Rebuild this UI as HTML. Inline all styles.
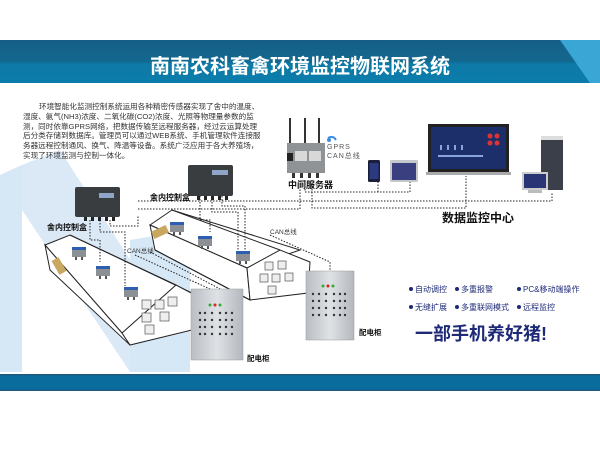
<!DOCTYPE html>
<html><head><meta charset="utf-8"><style>
html,body{margin:0;padding:0;background:#fff;}
body{width:600px;height:450px;overflow:hidden;position:relative;font-family:"Liberation Sans","Noto Sans CJK SC",sans-serif;}
.t{position:absolute;white-space:nowrap;}
.p div{white-space:nowrap;}
</style></head><body>
<svg width="600" height="450" viewBox="0 0 600 450" style="position:absolute;left:0;top:0">
<defs>
<linearGradient id="tb" x1="0" y1="0" x2="0" y2="1"><stop offset="0" stop-color="#155f86"/><stop offset="0.5" stop-color="#136890"/><stop offset="0.55" stop-color="#0e7aa6"/><stop offset="1" stop-color="#0b7cab"/></linearGradient>
<linearGradient id="cab" x1="0" y1="0" x2="1" y2="0"><stop offset="0" stop-color="#b9bec4"/><stop offset="0.5" stop-color="#dfe2e5"/><stop offset="1" stop-color="#b3b8be"/></linearGradient>
</defs>
<polygon points="0,175 22,165 22,372 0,372" fill="#d6e7f6"/>
<polygon points="22,165 60,150 175,330 175,372 130,372 22,210" fill="#dbe9f6"/>
<polygon points="130,240 190,230 190,372 130,372" fill="#d6e7f6"/>
<rect x="0" y="40" width="600" height="43" fill="url(#tb)"/>
<polygon points="560,40 600,40 600,83 590,83" fill="#3aa6d6"/>
<rect x="0" y="374" width="600" height="17" fill="#0a6c9d"/>
<rect x="0" y="374" width="600" height="1.5" fill="#1d5a80"/>
<rect x="0" y="389.5" width="600" height="1.5" fill="#1d5a80"/>

<g fill="none" stroke="#222" stroke-width="1">
<polygon points="150,225 172,210 300,250 247,268" fill="#fff"/>
<polygon points="150,225 247,268 250,300 155,250" fill="#fff"/>
<polygon points="247,268 280,250 310,262 308,293 250,300" fill="#fff"/>
<line x1="172" y1="210" x2="280" y2="250"/>
<line x1="155" y1="250" x2="250" y2="300"/>
</g>
<rect x="152" y="228" width="16" height="8" fill="#c8a860" transform="rotate(-25 160 232)"/>
<g fill="none" stroke="#222" stroke-width="1">
<polygon points="45,245 70,235 190,292 122,333" fill="#fff"/>
<polygon points="45,245 122,333 130,345 50,270" fill="#fff"/>
<polygon points="122,333 176,285 195,295 192,330 130,345" fill="#fff"/>
<line x1="70" y1="235" x2="176" y2="285"/>
</g>
<rect x="55" y="258" width="8" height="16" fill="#c8a860" transform="rotate(-30 59 266)"/>
<g fill="#eee" stroke="#555" stroke-width="0.7">
<rect x="142" y="300" width="9" height="9"/><rect x="155" y="300" width="9" height="9"/><rect x="168" y="297" width="9" height="9"/>
<rect x="142" y="313" width="9" height="9"/><rect x="160" y="312" width="9" height="9"/><rect x="145" y="325" width="9" height="9"/>
<rect x="265" y="262" width="8" height="8"/><rect x="278" y="261" width="8" height="8"/><rect x="260" y="274" width="8" height="8"/>
<rect x="272" y="274" width="8" height="8"/><rect x="285" y="273" width="8" height="8"/><rect x="268" y="286" width="8" height="8"/>
</g>
<g fill="none" stroke="#222" stroke-width="1" stroke-dasharray="1.5,1.5">
<polyline points="138,209 300,209 300,180"/>
<polyline points="305,180 305,192 410,192 410,180"/>
<line x1="378" y1="192" x2="378" y2="182"/>
<polyline points="138,201 310,201 552,201 552,193"/>
<polyline points="312,180 312,208 466,208 466,176"/>
<polyline points="200,196 200,220 210,220 210,232"/>
<polyline points="212,196 212,212 238,212 238,250"/>
<polyline points="222,196 222,206 245,206 245,250"/>
<polyline points="90,220 90,240 100,240 100,262"/>
<polyline points="100,220 100,232 125,232 125,286"/>
<polyline points="110,220 110,226 138,226 138,215"/>
<polyline points="270,235 330,262 330,271"/>
<polyline points="150,252 222,290"/>
<polyline points="135,255 210,289"/>
</g>
<g>
<g transform="translate(170,222)"><rect width="14" height="10" fill="#8c9094"/><rect width="14" height="3" fill="#2c5fb0"/><rect x="3" y="10" width="2" height="3" fill="#555"/><rect x="9" y="10" width="2" height="3" fill="#555"/></g>
<g transform="translate(198,236)"><rect width="14" height="10" fill="#8c9094"/><rect width="14" height="3" fill="#2c5fb0"/><rect x="3" y="10" width="2" height="3" fill="#555"/><rect x="9" y="10" width="2" height="3" fill="#555"/></g>
<g transform="translate(236,251)"><rect width="14" height="10" fill="#8c9094"/><rect width="14" height="3" fill="#2c5fb0"/><rect x="3" y="10" width="2" height="3" fill="#555"/><rect x="9" y="10" width="2" height="3" fill="#555"/></g>
<g transform="translate(72,247)"><rect width="14" height="10" fill="#8c9094"/><rect width="14" height="3" fill="#2c5fb0"/><rect x="3" y="10" width="2" height="3" fill="#555"/><rect x="9" y="10" width="2" height="3" fill="#555"/></g>
<g transform="translate(96,266)"><rect width="14" height="10" fill="#8c9094"/><rect width="14" height="3" fill="#2c5fb0"/><rect x="3" y="10" width="2" height="3" fill="#555"/><rect x="9" y="10" width="2" height="3" fill="#555"/></g>
<g transform="translate(124,287)"><rect width="14" height="10" fill="#8c9094"/><rect width="14" height="3" fill="#2c5fb0"/><rect x="3" y="10" width="2" height="3" fill="#555"/><rect x="9" y="10" width="2" height="3" fill="#555"/></g>
</g>
<g>
<rect x="75" y="187" width="45" height="30" rx="2" fill="#3a3d40"/>
<rect x="99" y="193" width="15" height="5" fill="#8fa6c8"/>
<g fill="#222"><rect x="84" y="217" width="3" height="4"/><rect x="91" y="217" width="3" height="4"/><rect x="98" y="217" width="3" height="4"/><rect x="105" y="217" width="3" height="4"/><rect x="112" y="217" width="3" height="4"/></g>
<rect x="188" y="165" width="45" height="31" rx="2" fill="#3a3d40"/>
<rect x="212" y="170" width="16" height="5" fill="#8fa6c8"/>
<g fill="#222"><rect x="197" y="196" width="3" height="4"/><rect x="204" y="196" width="3" height="4"/><rect x="211" y="196" width="3" height="4"/><rect x="218" y="196" width="3" height="4"/><rect x="225" y="196" width="3" height="4"/></g>
</g>
<g>
<rect x="289" y="118" width="2" height="26" fill="#333"/><rect x="304" y="118" width="2" height="26" fill="#333"/><rect x="318" y="118" width="2" height="26" fill="#333"/>
<rect x="287" y="143" width="38" height="30" fill="#8f9396"/>
<rect x="287" y="153" width="6" height="8" fill="#222"/>
<rect x="295" y="151" width="12" height="10" fill="#d8d8d8"/><rect x="309" y="151" width="12" height="10" fill="#d8d8d8"/>
<g fill="#333"><rect x="292" y="173" width="3" height="5"/><rect x="300" y="173" width="3" height="5"/><rect x="308" y="173" width="3" height="5"/><rect x="316" y="173" width="3" height="5"/></g>
<path d="M328,138 q5,-3 8,2" stroke="#3a8de0" stroke-width="2" fill="none"/>
<circle cx="329" cy="140" r="2" fill="#3a8de0"/>
</g>
<rect x="368" y="160" width="12" height="22" rx="1.5" fill="#1a1f3a"/><rect x="369.5" y="163" width="9" height="16" fill="#2c3a80"/>
<rect x="390" y="160" width="28" height="22" rx="1.5" fill="#c4c8cc"/><rect x="392" y="163" width="24" height="17" fill="#3a3f80"/>
<rect x="428" y="124" width="81" height="48" fill="#222"/>
<rect x="431" y="127" width="75" height="42" fill="#1d2f6a"/>
<g fill="#d33"><circle cx="490" cy="136" r="2.5"/><circle cx="497" cy="136" r="2.5"/><circle cx="490" cy="143" r="2.5"/><circle cx="497" cy="143" r="2.5"/></g>
<g fill="#8aa3d8"><rect x="440" y="145" width="2" height="5"/><rect x="447" y="145" width="2" height="5"/><rect x="454" y="145" width="2" height="5"/><rect x="461" y="145" width="2" height="5"/><rect x="438" y="155" width="45" height="2"/></g>
<rect x="426" y="172" width="85" height="3" fill="#aaa"/>
<rect x="541" y="136" width="22" height="4" fill="#ddd"/>
<rect x="541" y="140" width="22" height="50" fill="#3a3f4a"/>
<rect x="522" y="172" width="26" height="18" fill="#ccc"/><rect x="524" y="174" width="22" height="14" fill="#2a3575"/>
<rect x="528" y="190" width="14" height="3" fill="#bbb"/>
<rect x="191" y="289" width="52" height="71" fill="url(#cab)" stroke="#999" stroke-width="0.5"/>
<rect x="306" y="271" width="48" height="69" fill="url(#cab)" stroke="#999" stroke-width="0.5"/>
<g>
<circle cx="210" cy="305" r="1.5" fill="#3a3"/><circle cx="215" cy="305" r="1.5" fill="#d22"/><circle cx="220" cy="305" r="1.5" fill="#3a3"/>
<circle cx="323" cy="286" r="1.5" fill="#3a3"/><circle cx="328" cy="286" r="1.5" fill="#d22"/><circle cx="333" cy="286" r="1.5" fill="#3a3"/>
</g>
<g fill="#333">
<circle cx="200" cy="313" r="1.2"/><circle cx="205" cy="313" r="1.2"/><circle cx="212" cy="313" r="1.2"/><circle cx="220" cy="313" r="1.2"/><circle cx="226" cy="313" r="1.2"/><circle cx="232" cy="313" r="1.2"/>
<circle cx="200" cy="320" r="1.2"/><circle cx="205" cy="320" r="1.2"/><circle cx="212" cy="320" r="1.2"/><circle cx="220" cy="320" r="1.2"/><circle cx="226" cy="320" r="1.2"/><circle cx="232" cy="320" r="1.2"/>
<circle cx="200" cy="327" r="1.2"/><circle cx="205" cy="327" r="1.2"/><circle cx="212" cy="327" r="1.2"/><circle cx="220" cy="327" r="1.2"/><circle cx="226" cy="327" r="1.2"/><circle cx="232" cy="327" r="1.2"/>
<circle cx="200" cy="334" r="1.2"/><circle cx="205" cy="334" r="1.2"/><circle cx="212" cy="334" r="1.2"/><circle cx="220" cy="334" r="1.2"/><circle cx="226" cy="334" r="1.2"/><circle cx="232" cy="334" r="1.2"/>
<circle cx="313" cy="294" r="1.2"/><circle cx="319" cy="294" r="1.2"/><circle cx="326" cy="294" r="1.2"/><circle cx="334" cy="294" r="1.2"/><circle cx="340" cy="294" r="1.2"/><circle cx="345" cy="294" r="1.2"/>
<circle cx="313" cy="301" r="1.2"/><circle cx="319" cy="301" r="1.2"/><circle cx="326" cy="301" r="1.2"/><circle cx="334" cy="301" r="1.2"/><circle cx="340" cy="301" r="1.2"/><circle cx="345" cy="301" r="1.2"/>
<circle cx="313" cy="308" r="1.2"/><circle cx="319" cy="308" r="1.2"/><circle cx="326" cy="308" r="1.2"/><circle cx="334" cy="308" r="1.2"/><circle cx="340" cy="308" r="1.2"/><circle cx="345" cy="308" r="1.2"/>
<circle cx="313" cy="315" r="1.2"/><circle cx="319" cy="315" r="1.2"/><circle cx="326" cy="315" r="1.2"/><circle cx="334" cy="315" r="1.2"/><circle cx="340" cy="315" r="1.2"/><circle cx="345" cy="315" r="1.2"/>
</g>
<g fill="#1e2a78">
<circle cx="411" cy="289" r="2"/><circle cx="457" cy="289" r="2"/><circle cx="519" cy="289" r="2"/>
<circle cx="411" cy="307" r="2"/><circle cx="457" cy="307" r="2"/><circle cx="519" cy="307" r="2"/>
</g>
</svg>

<div class="t" style="left:150px;top:54px;font-size:20px;font-weight:bold;color:#fff;line-height:26px">南南农科畜禽环境监控物联网系统</div>

<div class="t p" style="left:23px;top:102px;font-size:7.6px;line-height:9.8px;color:#333">
<div style="padding-left:16px">环境智能化监测控制系统运用各种精密传感器实现了舍中的温度、</div>
<div>湿度、氨气(NH3)浓度、二氧化碳(CO2)浓度、光照等物理量参数的监</div>
<div>测，同时依靠GPRS网络，把数据传输至远程服务器，经过云运算处理</div>
<div>后分类存储到数据库。管理员可以通过WEB系统、手机管理软件连接服</div>
<div>务器远程控制通风、换气、降温等设备。系统广泛应用于各大养殖场，</div>
<div>实现了环境监测与控制一体化。</div>
</div>

<div class="t" style="left:327px;top:143px;font-size:7px;line-height:9px;color:#555;letter-spacing:1px">GPRS<br>CAN总线</div>
<div class="t" style="left:288px;top:178px;font-size:9px;font-weight:bold;color:#111">中间服务器</div>
<div class="t" style="left:442px;top:209px;font-size:12px;font-weight:bold;color:#111">数据监控中心</div>
<div class="t" style="left:150px;top:192px;font-size:8px;font-weight:bold;color:#111">舍内控制盒</div>
<div class="t" style="left:47px;top:222px;font-size:8px;font-weight:bold;color:#111">舍内控制盒</div>
<div class="t" style="left:127px;top:245px;font-size:6.5px;color:#333">CAN总线</div>
<div class="t" style="left:270px;top:226px;font-size:6.5px;color:#333">CAN总线</div>
<div class="t" style="left:247px;top:353px;font-size:7.5px;font-weight:bold;color:#111">配电柜</div>
<div class="t" style="left:359px;top:327px;font-size:7.5px;font-weight:bold;color:#111">配电柜</div>

<div class="t" style="left:415px;top:284px;font-size:8px;color:#1e2a78">自动调控</div>
<div class="t" style="left:461px;top:284px;font-size:8px;color:#1e2a78">多重报警</div>
<div class="t" style="left:523px;top:284px;font-size:8px;color:#1e2a78">PC&amp;移动端操作</div>
<div class="t" style="left:415px;top:302px;font-size:8px;color:#1e2a78">无缝扩展</div>
<div class="t" style="left:461px;top:302px;font-size:8px;color:#1e2a78">多重联网模式</div>
<div class="t" style="left:523px;top:302px;font-size:8px;color:#1e2a78">远程监控</div>
<div class="t" style="left:415px;top:320px;font-size:18px;font-weight:bold;color:#1e2a78">一部手机养好猪!</div>
</body></html>
